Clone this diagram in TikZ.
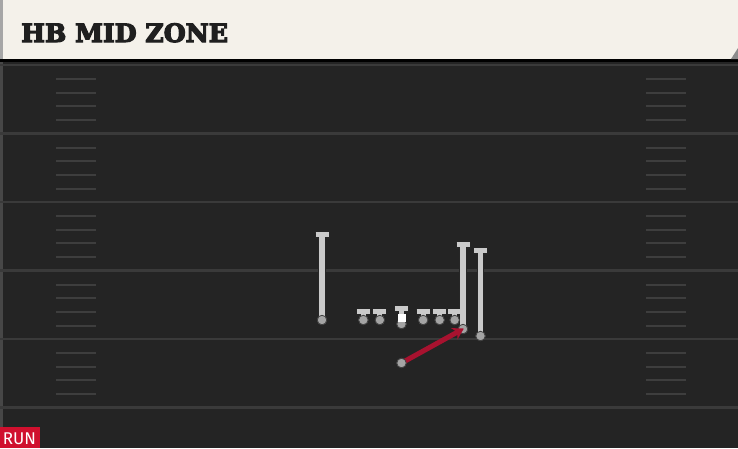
\documentclass[tikz,border=0pt]{standalone}
\usepackage{fontspec}
\newfontfamily\titlefont{DejaVu Serif}
\newfontfamily\tagfont{Fira Sans}
\usetikzlibrary{positioning,arrows.meta}

\newcommand\heavytext[1]{\special{pdf:code 2 Tr 1.2 w}#1\special{pdf:code 0 Tr}}

\definecolor{cream}{HTML}{F4F1EA}
\definecolor{turf}{HTML}{242424}
\definecolor{yardline}{HTML}{3A3A3A}
\definecolor{hashline}{HTML}{3E3E3E}
\definecolor{routegray}{HTML}{CACACA}
\definecolor{dotgray}{HTML}{A4A4A4}
\definecolor{runred}{HTML}{A8122F}
\definecolor{tagred}{HTML}{D0102E}

\tikzset{
  player/.style   = {circle, fill=dotgray, draw=black!75, line width=0.8pt,
                     inner sep=0pt, minimum size=9.5pt},
  route/.style    = {draw=routegray, line width=5.2pt,
                     -{Bar[width=13pt,line width=5pt]}},
  routeedge/.style= {draw=black!85, line width=7.2pt,
                     -{Bar[width=15pt,line width=7pt]}},
  run/.style      = {draw=runred, line width=5pt,
                     -{Stealth[length=11pt,width=13pt]}}
}

\begin{document}
\begin{tikzpicture}[x=1pt, y=-1pt, node distance = 16pt, on grid]
        \useasboundingbox (0,0) rectangle (738,448);

        % Field
        \fill[turf] (0,59) rectangle (738,448);
        \fill[black!72] (0,59) rectangle (3,448);
        \foreach \yl in {65,133.5,202,270.5,339,407.5}
            \draw[yardline, line width=2.2pt] (0,\yl) -- (738,\yl);
        \foreach \yl in {65,133.5,202,270.5,339}
            \foreach \dy in {14,27.5,41,55}
            {
                \draw[hashline, line width=2pt] (56,\yl+\dy) -- (96,\yl+\dy);
                \draw[hashline, line width=2pt] (646,\yl+\dy) -- (686,\yl+\dy);
            }

        % Header
        \fill[black] (0,58) rectangle (738,62);
        \fill[cream] (0,0) rectangle (738,59);
        \fill[black!35] (0,0) rectangle (3,59);
        \fill[black!45] (738,48) -- (738,59) -- (731,59) -- cycle;
        \node[anchor=base west, inner sep=0pt, text=black!88]
            (title) at (21,42) {\titlefont\bfseries\fontsize{25.2}{26}\selectfont\heavytext{HB MID ZONE}};

        % Place players
        \coordinate (ball) at (401.5,320);
        \node[player]                  (c)   at (401.5,324) {};
        \node[player, left=16.5pt of ball]  (lg)  {};
        \node[player, left=16.5pt of lg]    (lt)  {};
        \node[player, right=16.5pt of ball] (rg)  {};
        \node[player, right=16.5pt of rg]   (rt)  {};
        \node[player, right=15pt of rt]     (te)  {};
        \node[player]                  (wr)  at (322,320)   {};
        \node[player]                  (wing) at (463,329)  {};
        \node[player]                  (slot) at (480.5,336) {};
        \node[player]                  (hb)  at (401.5,363) {};

        % Route ends
        \coordinate (wr_end)   at (322,232);
        \coordinate (wing_end) at (463,242);
        \coordinate (slot_end) at (480.5,248);
        \coordinate (c_end)    at (401.5,306);
        \foreach \p in {lt,lg,rg,rt,te}
            \coordinate (\p_end) at ([yshift=11.5pt]\p.center);

        % Draw routes
        \foreach \p in {wr,wing,slot,lt,lg,c,rg,rt,te}
            \draw[routeedge] (\p.center) -- (\p_end);
        \foreach \p in {wr,wing,slot,lt,lg,c,rg,rt,te}
        {
            \draw[route] (\p.center) -- (\p_end);
            \node[player] at (\p) {};
        }
        \fill[white] (398,313.5) rectangle (405.5,321.5);

        % Run path
        \draw[run, shorten >=-1pt] (hb.center) -- (wing.center);
        \node[player] at (hb) {};

        % Play tag
        \fill[tagred] (0,427) rectangle (40,448);
        \node[anchor=base, inner sep=0pt, text=white] (tag) at (19.5,444)
            {\tagfont\fontsize{17}{17}\selectfont RUN};
\end{tikzpicture}
\end{document}
